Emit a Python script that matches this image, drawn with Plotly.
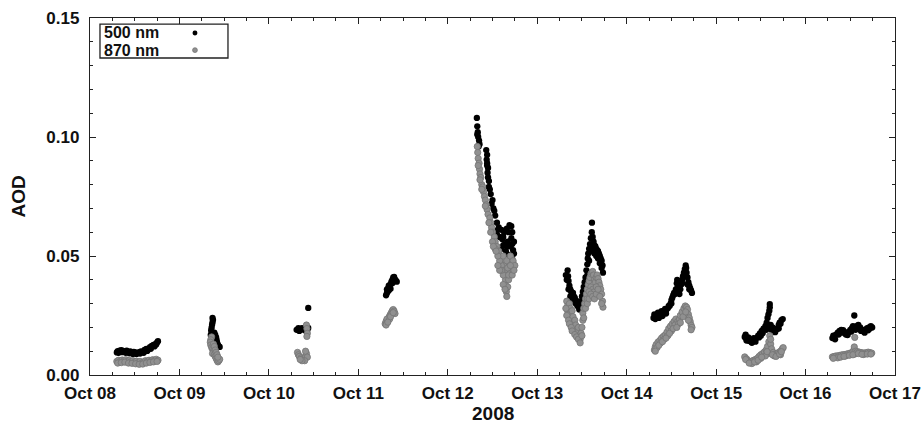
import datetime as dt
import plotly.graph_objects as go

# Observations: (day of October 2008, fractional; AOD)
oct08_500 = [(8.30,.0095),(8.31,.0100),(8.33,.0102),(8.35,.0104),(8.37,.0101),(8.39,.0099),(8.41,.0102),
             (8.43,.0097),(8.45,.0099),(8.47,.0094),(8.49,.0097),(8.51,.0095),(8.53,.0092),(8.55,.0096),
             (8.57,.0099),(8.59,.0097),(8.61,.0105),(8.63,.0110),(8.65,.0108),(8.67,.0117),(8.69,.0122),
             (8.71,.0126),(8.73,.0130),(8.75,.0137),(8.76,.0142),
             (8.32,.0093),(8.36,.0096),(8.40,.0093),(8.44,.0091),(8.48,.0088),(8.52,.0088),(8.56,.0090),
             (8.60,.0093),(8.64,.0101),(8.68,.0110),(8.72,.0120),(8.74,.0128)]
oct08_870 = [(8.30,.0057),(8.32,.0062),(8.34,.0058),(8.36,.0063),(8.38,.0060),(8.40,.0064),(8.42,.0058),
             (8.44,.0061),(8.46,.0056),(8.48,.0060),(8.50,.0054),(8.52,.0058),(8.54,.0052),(8.56,.0057),
             (8.58,.0050),(8.60,.0055),(8.62,.0060),(8.64,.0057),(8.66,.0062),(8.68,.0058),(8.70,.0064),
             (8.72,.0061),(8.74,.0066),(8.76,.0062),
             (8.31,.0050),(8.35,.0052),(8.39,.0054),(8.43,.0050),(8.47,.0049),(8.51,.0047),(8.55,.0045),
             (8.59,.0046),(8.63,.0050),(8.67,.0053),(8.71,.0055),(8.75,.0057)]

oct09_500 = [(9.37,.0240),(9.375,.0232),(9.37,.0222),(9.365,.0212),(9.36,.0200),(9.355,.0188),(9.36,.0178),
             (9.35,.0168),(9.365,.0160),(9.38,.0170),(9.39,.0178),(9.40,.0168),(9.41,.0158),(9.415,.0148),
             (9.42,.0138),(9.43,.0128),(9.44,.0120),(9.45,.0118)]
oct09_870 = [(9.36,.0160),(9.35,.0148),(9.345,.0138),(9.35,.0126),(9.36,.0116),(9.37,.0108),(9.38,.0100),
             (9.37,.0090),(9.39,.0085),(9.40,.0078),(9.41,.0070),(9.42,.0062),(9.43,.0055),(9.44,.0060),
             (9.45,.0066),(9.38,.0130),(9.39,.0120),(9.40,.0105),(9.41,.0095),(9.42,.0085),(9.43,.0075)]

oct10_500 = [(10.31,.0190),(10.33,.0197),(10.35,.0192),(10.37,.0197),(10.39,.0190),(10.41,.0196),
             (10.43,.0190),(10.44,.0198),(10.42,.0183),(10.34,.0185),(10.44,.0282)]
oct10_870 = [(10.42,.0210),(10.425,.0195),(10.43,.0175),(10.425,.0162),(10.32,.0095),(10.33,.0085),
             (10.34,.0078),(10.36,.0072),(10.38,.0068),(10.40,.0072),(10.41,.0080),(10.42,.0090),
             (10.41,.0100),(10.43,.0075),(10.40,.0060),(10.37,.0060),(10.35,.0065)]

oct11_500 = [(11.31,.0335),(11.32,.0345),(11.33,.0352),(11.335,.0365),(11.34,.0375),(11.35,.0370),
             (11.36,.0382),(11.37,.0392),(11.38,.0400),(11.39,.0410),(11.40,.0412),(11.41,.0402),
             (11.42,.0396),(11.43,.0392),(11.36,.0362),
             (11.32,.0360),(11.34,.0355),(11.38,.0385),(11.40,.0398)]
oct11_870 = [(11.30,.0215),(11.31,.0225),(11.32,.0220),(11.33,.0232),(11.34,.0240),(11.35,.0248),
             (11.36,.0255),(11.37,.0262),(11.38,.0270),(11.39,.0275),(11.40,.0268),(11.41,.0258),
             (11.32,.0235),(11.35,.0235),
             (11.31,.0210),(11.33,.0222),(11.36,.0245),(11.39,.0262)]

oct12_500 = [(12.325,.1080),(12.33,.1045),(12.335,.1020),(12.34,.1000),(12.35,.0985),(12.355,.0970),
             (12.43,.0945),(12.44,.0925),(12.435,.0905),(12.44,.0890),(12.45,.0870),(12.445,.0850),
             (12.45,.0830),(12.46,.0815),(12.47,.0780),(12.48,.0760),(12.50,.0735),(12.52,.0690),
             (12.53,.0670),(12.55,.0640),(12.57,.0620),(12.60,.0610),(12.63,.0600),(12.66,.0615),
             (12.69,.0630),(12.71,.0625),(12.72,.0600),(12.71,.0575),(12.72,.0550),(12.73,.0525),
             (12.72,.0500),(12.73,.0475),(12.70,.0540),(12.67,.0560),(12.64,.0550),(12.61,.0570),
             (12.58,.0580),(12.55,.0590),(12.60,.0530),(12.65,.0520),(12.68,.0505),
             (12.33,.1010),(12.345,.0960),(12.44,.0880),(12.46,.0790),(12.49,.0720),(12.51,.0700),
             (12.56,.0610),(12.62,.0580),(12.68,.0600),(12.74,.0560),(12.74,.0510),(12.66,.0540),
             (12.62,.0545)]
oct12_870 = [(12.33,.0960),(12.335,.0935),(12.34,.0910),(12.35,.0890),(12.355,.0865),(12.36,.0845),
             (12.37,.0830),(12.38,.0800),(12.39,.0790),(12.40,.0770),(12.41,.0750),(12.42,.0735),
             (12.43,.0715),(12.44,.0695),(12.45,.0675),(12.47,.0660),(12.48,.0640),(12.49,.0620),
             (12.50,.0600),(12.52,.0580),(12.53,.0560),(12.55,.0540),(12.57,.0520),(12.59,.0500),
             (12.61,.0480),(12.63,.0460),(12.64,.0440),(12.64,.0420),(12.645,.0400),(12.65,.0375),
             (12.655,.0350),(12.66,.0330),(12.67,.0370),(12.68,.0400),(12.70,.0430),(12.72,.0460),
             (12.73,.0440),(12.71,.0490),(12.69,.0470),(12.67,.0450),(12.60,.0460),(12.58,.0480),
             (12.62,.0500),(12.66,.0480),(12.70,.0500),(12.73,.0480),(12.56,.0500),(12.50,.0560),
             (12.53,.0530),(12.75,.0460),(12.62,.0420),(12.60,.0440),
             (12.34,.0880),(12.36,.0820),(12.38,.0780),(12.42,.0710),(12.46,.0640),(12.48,.0600),
             (12.51,.0540),(12.54,.0520),(12.58,.0440),(12.62,.0380),(12.64,.0360),(12.68,.0420),
             (12.72,.0420),(12.74,.0440),(12.70,.0460),(12.56,.0460)]

oct13_500 = [(13.34,.0440),(13.345,.0415),(13.35,.0395),(13.36,.0375),(13.37,.0360),(13.38,.0350),
             (13.39,.0340),(13.40,.0345),(13.41,.0330),(13.42,.0325),(13.43,.0315),(13.44,.0310),
             (13.45,.0300),(13.46,.0290),(13.47,.0285),(13.48,.0295),(13.49,.0310),(13.50,.0330),
             (13.51,.0350),(13.52,.0370),(13.53,.0390),(13.54,.0410),(13.55,.0440),(13.56,.0465),
             (13.565,.0490),(13.57,.0510),(13.58,.0530),(13.59,.0550),(13.60,.0575),(13.61,.0600),
             (13.612,.0640),(13.62,.0580),(13.63,.0560),(13.64,.0545),(13.65,.0540),(13.66,.0530),
             (13.67,.0525),(13.68,.0520),(13.69,.0510),(13.70,.0500),(13.71,.0490),(13.72,.0480),
             (13.73,.0460),(13.735,.0430),
             (13.32,.0420),(13.33,.0400),(13.35,.0360),(13.37,.0330),(13.39,.0320),(13.41,.0310),
             (13.43,.0300),(13.45,.0290),(13.47,.0275),(13.49,.0285),(13.52,.0330),(13.54,.0370),
             (13.56,.0420),(13.58,.0480),(13.60,.0520),(13.62,.0530),(13.64,.0510),(13.66,.0500),
             (13.68,.0490),(13.70,.0470),(13.72,.0450)]
oct13_870 = [(13.33,.0310),(13.34,.0290),(13.34,.0270),(13.35,.0255),(13.36,.0300),(13.37,.0280),
             (13.37,.0250),(13.38,.0230),(13.39,.0270),(13.40,.0245),(13.40,.0220),(13.41,.0200),
             (13.42,.0230),(13.43,.0210),(13.44,.0190),(13.45,.0180),(13.46,.0200),(13.47,.0165),
             (13.48,.0150),(13.49,.0175),(13.50,.0200),(13.51,.0230),(13.51,.0260),(13.52,.0280),
             (13.53,.0300),(13.54,.0320),(13.55,.0340),(13.56,.0360),(13.57,.0380),(13.58,.0395),
             (13.59,.0410),(13.60,.0425),(13.61,.0430),(13.62,.0435),(13.63,.0420),(13.64,.0400),
             (13.65,.0390),(13.66,.0410),(13.67,.0420),(13.68,.0405),(13.69,.0390),(13.70,.0375),
             (13.71,.0360),(13.72,.0340),(13.73,.0310),(13.735,.0285),(13.60,.0370),(13.62,.0360),
             (13.58,.0350),(13.64,.0350),(13.56,.0320),(13.66,.0370),
             (13.32,.0280),(13.33,.0250),(13.35,.0230),(13.36,.0215),(13.38,.0200),(13.39,.0185),
             (13.42,.0170),(13.44,.0160),(13.46,.0150),(13.48,.0135),(13.50,.0165),(13.52,.0240),
             (13.54,.0280),(13.56,.0300),(13.58,.0320),(13.60,.0340),(13.62,.0330),(13.64,.0320),
             (13.66,.0340),(13.68,.0360),(13.70,.0330),(13.72,.0300)]

oct14_500 = [(14.30,.0240),(14.32,.0245),(14.34,.0250),(14.36,.0255),(14.38,.0250),(14.40,.0260),
             (14.42,.0265),(14.44,.0270),(14.46,.0280),(14.48,.0290),(14.49,.0300),(14.50,.0315),
             (14.51,.0325),(14.52,.0335),(14.53,.0345),(14.55,.0360),(14.56,.0385),(14.565,.0400),
             (14.57,.0370),(14.58,.0350),(14.59,.0340),(14.60,.0360),(14.61,.0380),(14.62,.0400),
             (14.63,.0415),(14.64,.0430),(14.65,.0445),(14.66,.0460),(14.665,.0450),(14.67,.0430),
             (14.68,.0410),(14.69,.0390),(14.70,.0375),(14.71,.0365),(14.72,.0355),(14.73,.0345),
             (14.32,.0235),(14.36,.0240),(14.40,.0248),(14.44,.0258),
             (14.31,.0255),(14.35,.0262),(14.39,.0268),(14.43,.0278),(14.47,.0290),(14.50,.0300),
             (14.54,.0340),(14.58,.0370),(14.62,.0385),(14.66,.0430),(14.68,.0380),(14.70,.0360)]
oct14_870 = [(14.31,.0105),(14.32,.0118),(14.33,.0128),(14.35,.0138),(14.37,.0145),(14.39,.0155),
             (14.41,.0162),(14.43,.0168),(14.45,.0180),(14.47,.0195),(14.49,.0205),(14.51,.0215),
             (14.53,.0225),(14.55,.0235),(14.57,.0225),(14.59,.0235),(14.60,.0250),(14.62,.0265),
             (14.64,.0280),(14.655,.0290),(14.67,.0285),(14.68,.0275),(14.69,.0255),(14.70,.0240),
             (14.71,.0225),(14.72,.0210),(14.73,.0200),(14.34,.0115),(14.38,.0135),(14.42,.0150),
             (14.46,.0165),(14.50,.0185),(14.54,.0210),(14.58,.0215),
             (14.32,.0100),(14.36,.0125),(14.40,.0140),(14.44,.0155),(14.48,.0175),(14.52,.0195),
             (14.56,.0200),(14.60,.0220),(14.63,.0245),(14.66,.0265),(14.69,.0230),(14.72,.0190)]

oct15_500 = [(15.32,.0160),(15.33,.0155),(15.35,.0150),(15.37,.0143),(15.39,.0140),(15.41,.0145),
             (15.43,.0148),(15.45,.0155),(15.47,.0165),(15.49,.0175),(15.51,.0185),(15.53,.0195),
             (15.55,.0205),(15.565,.0220),(15.575,.0240),(15.585,.0255),(15.595,.0270),(15.60,.0285),
             (15.60,.0298),(15.61,.0210),(15.63,.0200),(15.65,.0195),(15.67,.0190),(15.69,.0195),
             (15.70,.0210),(15.71,.0220),(15.73,.0230),(15.745,.0235),(15.58,.0200),(15.56,.0190),
             (15.34,.0145),(15.40,.0135),(15.44,.0140),(15.50,.0165),
             (15.33,.0170),(15.36,.0158),(15.42,.0155),(15.48,.0158),(15.52,.0175),(15.56,.0205),
             (15.62,.0190),(15.66,.0180),(15.70,.0195),(15.72,.0215)]
oct15_870 = [(15.32,.0076),(15.34,.0068),(15.36,.0060),(15.38,.0055),(15.40,.0058),(15.42,.0062),
             (15.44,.0065),(15.46,.0070),(15.48,.0078),(15.50,.0085),(15.52,.0090),(15.54,.0097),
             (15.56,.0105),(15.575,.0120),(15.59,.0140),(15.60,.0165),(15.61,.0130),(15.62,.0110),
             (15.64,.0095),(15.66,.0088),(15.68,.0090),(15.70,.0095),(15.72,.0100),(15.74,.0110),
             (15.75,.0115),(15.72,.0085),(15.58,.0090),(15.55,.0080),(15.50,.0070),(15.45,.0055),
             (15.40,.0048),(15.65,.0080),
             (15.33,.0065),(15.37,.0050),(15.43,.0055),(15.47,.0062),(15.51,.0075),(15.57,.0098),
             (15.63,.0085),(15.67,.0078),(15.71,.0088),(15.73,.0098),(15.61,.0150)]

oct16_500 = [(16.30,.0155),(16.32,.0160),(16.34,.0170),(16.36,.0178),(16.38,.0185),(16.40,.0190),
             (16.42,.0188),(16.44,.0180),(16.46,.0175),(16.48,.0180),(16.50,.0190),(16.52,.0198),
             (16.53,.0205),(16.55,.0200),(16.57,.0205),(16.59,.0210),(16.61,.0200),(16.63,.0190),
             (16.65,.0185),(16.67,.0192),(16.69,.0197),(16.71,.0200),(16.73,.0205),(16.745,.0200),
             (16.545,.0250),(16.31,.0165),(16.45,.0170),(16.60,.0195),
             (16.33,.0150),(16.37,.0170),(16.41,.0178),(16.47,.0168),(16.51,.0182),(16.56,.0190),
             (16.62,.0185),(16.66,.0178),(16.70,.0188),(16.72,.0195)]
oct16_870 = [(16.30,.0076),(16.32,.0078),(16.34,.0080),(16.36,.0080),(16.38,.0082),(16.40,.0084),
             (16.42,.0085),(16.44,.0086),(16.46,.0088),(16.48,.0090),(16.50,.0092),(16.52,.0095),
             (16.54,.0105),(16.545,.0118),(16.56,.0100),(16.58,.0098),(16.60,.0096),(16.62,.0094),
             (16.64,.0093),(16.66,.0092),(16.68,.0094),(16.70,.0096),(16.72,.0094),(16.74,.0092),
             (16.36,.0072),(16.45,.0080),(16.55,.0088),(16.65,.0086),(16.55,.0158),
             (16.31,.0070),(16.39,.0075),(16.43,.0078),(16.49,.0083),(16.53,.0085),(16.59,.0090),
             (16.63,.0087),(16.69,.0088),(16.73,.0088)]

series_500 = [oct08_500, oct09_500, oct10_500, oct11_500, oct12_500, oct13_500, oct14_500, oct15_500, oct16_500]
series_870 = [oct08_870, oct09_870, oct10_870, oct11_870, oct12_870, oct13_870, oct14_870, oct15_870, oct16_870]

legend_labels = ["500 nm", "870 nm"]
x_title = "2008"
y_title = "AOD"

BASE = dt.datetime(2008, 10, 1)


def to_time(day):
    return BASE + dt.timedelta(days=day - 1)


def unpack(groups):
    xs, ys = [], []
    for g in groups:
        for d, v in g:
            xs.append(to_time(d))
            ys.append(v)
    return xs, ys


x500, y500 = unpack(series_500)
x870, y870 = unpack(series_870)

BLACK = "#000000"
GRAY_FILL = "#909090"
GRAY_EDGE = "#757575"
FONT = "Liberation Sans"
MSIZE = 6.3

fig = go.Figure()
fig.add_trace(go.Scatter(x=x500, y=y500, mode="markers", name=legend_labels[0],
                         marker=dict(size=MSIZE, color=BLACK, line=dict(width=0))))
fig.add_trace(go.Scatter(x=x870, y=y870, mode="markers", name=legend_labels[1],
                         marker=dict(size=MSIZE, color=GRAY_FILL, line=dict(width=0.8, color=GRAY_EDGE))))

axis_common = dict(
    showline=True, linecolor="#222222", linewidth=1.3, mirror="allticks",
    ticks="inside", ticklen=6, tickwidth=1, tickcolor="#222222",
    showgrid=False, zeroline=False, automargin=False,
    tickfont=dict(family=FONT, size=17, color="#111111", weight="bold"),
)

fig.update_xaxes(
    type="date",
    range=[to_time(8), to_time(17)],
    dtick=86400000, tick0=to_time(8), tickformat="%b %d",
    minor=dict(dtick=6 * 3600 * 1000, ticks="inside", ticklen=3, tickcolor="#222222", showgrid=False),
    ticklabelstandoff=2,
    **axis_common,
)
fig.update_yaxes(
    range=[0, 0.15], dtick=0.05, tickformat=".2f",
    minor=dict(dtick=0.01, ticks="inside", ticklen=3, tickcolor="#222222", showgrid=False),
    ticklabelstandoff=6,
    **axis_common,
)

title_font = dict(family=FONT, size=19, color="#111111", weight="bold")
fig.add_annotation(xref="paper", yref="paper", x=0.5, y=-0.109, text=x_title, showarrow=False,
                   xanchor="center", yanchor="middle", font=title_font)
fig.add_annotation(xref="paper", yref="paper", x=-0.0894, y=0.5, text=y_title, showarrow=False,
                   xanchor="center", yanchor="middle", textangle=-90, font=title_font)

# Legend box (text on the left, marker on the right as in the original)
lx0, lx1, ly0, ly1 = 0.0124, 0.1714, 0.888, 0.983
fig.add_shape(type="rect", xref="paper", yref="paper", x0=lx0, x1=lx1, y0=ly0, y1=ly1,
              line=dict(color="#222222", width=1.3), fillcolor="white", layer="above")
rows = [(0.958, BLACK, BLACK, 0), (0.910, GRAY_FILL, GRAY_EDGE, 0.8)]
for (yy, fc, ec, lw), lab in zip(rows, legend_labels):
    fig.add_annotation(xref="paper", yref="paper", x=0.015, y=yy, text=lab, showarrow=False,
                       xanchor="left", yanchor="middle",
                       font=dict(family=FONT, size=16, color="#111111", weight="bold"))
    r_x = 0.0030
    r_y = r_x * 805 / 357
    fig.add_shape(type="circle", xref="paper", yref="paper",
                  x0=0.1304 - r_x, x1=0.1304 + r_x, y0=yy - r_y, y1=yy + r_y,
                  fillcolor=fc, line=dict(color=ec, width=lw if lw else 0.1), layer="above")

fig.update_layout(
    width=923, height=425,
    margin=dict(l=90, r=28, t=18, b=50),
    paper_bgcolor="white", plot_bgcolor="white",
    showlegend=False,
    font=dict(family=FONT, color="#111111"),
)

fig.write_html("out.html")
